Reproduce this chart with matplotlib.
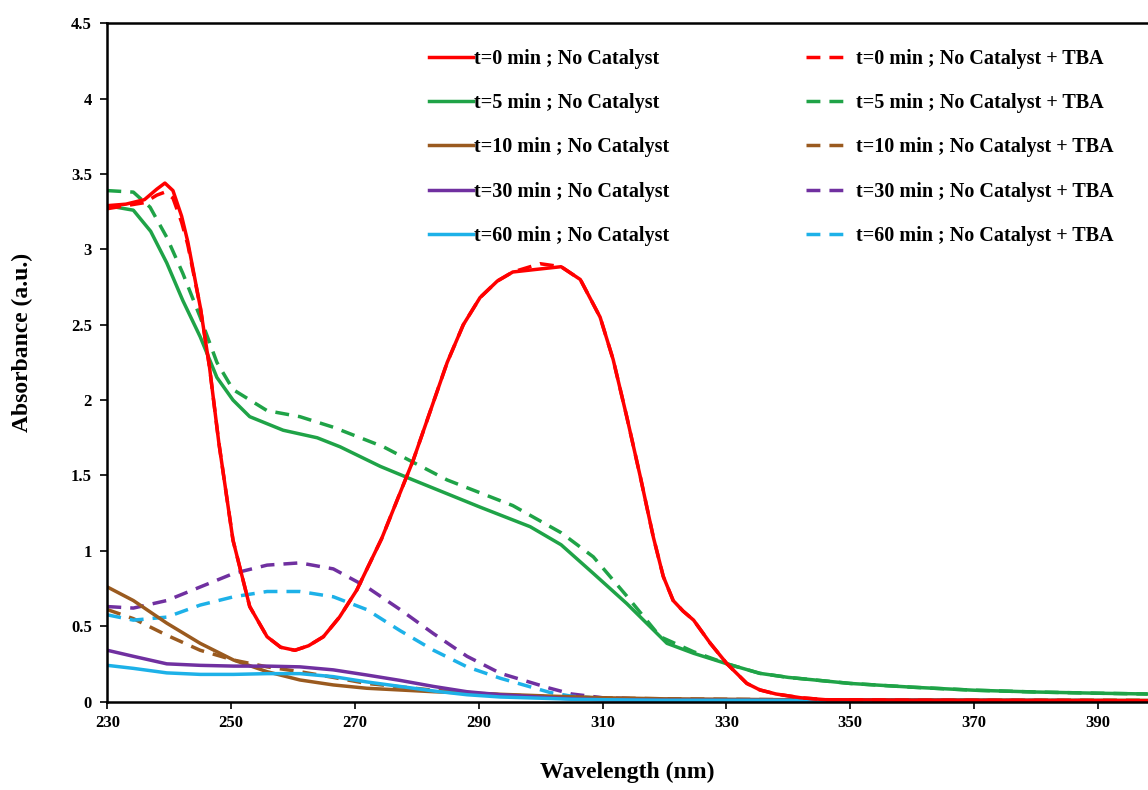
import numpy as np
import matplotlib
matplotlib.use("Agg")
import matplotlib.pyplot as plt

# wavelength (nm) / absorbance
wl_0 = [230, 233, 236, 238, 239.3, 240.6, 242, 243, 245, 246.5, 248, 250.3, 253, 255.8, 258, 260.3,
        262.5, 264.9, 267.5, 270.3, 274.3, 279.4, 284.9, 287.5, 290.2, 293, 295.5, 299.9, 303.3, 306.4,
        309.6, 311.7, 313.9, 316.1, 318.2, 319.8, 321.4, 323, 324.7, 327.4, 330.1, 333.3, 335.4, 338,
        342, 346, 360, 398]
abs_0 = [3.29, 3.30, 3.33, 3.40, 3.44, 3.39, 3.22, 3.05, 2.62, 2.22, 1.72, 1.07, 0.63, 0.43, 0.36, 0.34,
         0.37, 0.43, 0.56, 0.74, 1.08, 1.60, 2.25, 2.50, 2.68, 2.79, 2.85, 2.87, 2.885, 2.80,
         2.55, 2.27, 1.89, 1.49, 1.09, 0.83, 0.67, 0.60, 0.54, 0.386, 0.25, 0.12, 0.077, 0.05,
         0.025, 0.012, 0.008, 0.005]
abs_0_tba = [3.27, 3.29, 3.31, 3.36, 3.38, 3.34, 3.18, 3.03, 2.62, 2.22, 1.72, 1.07, 0.63, 0.43, 0.36, 0.34,
             0.37, 0.43, 0.56, 0.74, 1.08, 1.60, 2.25, 2.50, 2.68, 2.79, 2.85, 2.905, 2.885, 2.80,
             2.55, 2.27, 1.89, 1.49, 1.09, 0.83, 0.67, 0.60, 0.54, 0.386, 0.25, 0.12, 0.077, 0.05,
             0.025, 0.012, 0.008, 0.005]

wl_5 = [230, 234.2, 237, 239.6, 242.2, 245, 247.7, 250.3, 253, 258.4, 263.9, 267.6, 274.1, 279.4, 290.2,
        298.3, 303.3, 308.5, 313.9, 320.4, 324.7, 330.1, 335.4, 340, 345, 350, 360, 370, 380, 390, 398]
abs_5 = [3.29, 3.26, 3.12, 2.91, 2.66, 2.42, 2.15, 2.0, 1.89, 1.80, 1.75, 1.69, 1.56, 1.47, 1.29,
         1.16, 1.04, 0.85, 0.65, 0.386, 0.32, 0.25, 0.187, 0.16, 0.14, 0.12, 0.095, 0.075, 0.063, 0.055, 0.05]
wl_5_tba = [230, 234.2, 236.9, 239.6, 242.2, 245, 247.7, 250.3, 255.8, 261.1, 266.5, 274.6, 284.9, 295.5,
            303.3, 308.5, 313.9, 319.3, 324.7, 330.1, 335.4, 340, 345, 350, 360, 370, 380, 390, 398]
abs_5_tba = [3.39, 3.38, 3.28, 3.08, 2.84, 2.55, 2.25, 2.07, 1.93, 1.89, 1.82, 1.69, 1.47, 1.30,
             1.12, 0.96, 0.70, 0.43, 0.33, 0.25, 0.187, 0.16, 0.14, 0.12, 0.095, 0.075, 0.063, 0.055, 0.05]

wl_10 = [230, 234.2, 239.6, 245, 250.4, 255.8, 261.1, 266.5, 271.9, 282.7, 293.5, 301.5, 310, 320, 340, 398]
abs_10 = [0.76, 0.67, 0.52, 0.386, 0.275, 0.198, 0.143, 0.11, 0.088, 0.065, 0.048, 0.036, 0.025, 0.018, 0.012, 0.008]
abs_10_tba = [0.61, 0.55, 0.44, 0.34, 0.275, 0.23, 0.198, 0.16, 0.12, 0.075, 0.045, 0.032, 0.024, 0.018, 0.012, 0.008]

wl_30 = [230, 234.2, 239.6, 245, 250.4, 255.8, 261.1, 266.5, 271.9, 277.3, 282.7, 288.1, 293.5, 301.5,
         305, 310, 320, 398]
abs_30 = [0.34, 0.30, 0.25, 0.24, 0.235, 0.235, 0.23, 0.21, 0.176, 0.14, 0.10, 0.065, 0.045, 0.025,
          0.018, 0.012, 0.008, 0.005]
abs_30_tba = [0.63, 0.62, 0.67, 0.76, 0.85, 0.905, 0.92, 0.88, 0.76, 0.61, 0.45, 0.30, 0.187, 0.088,
              0.05, 0.025, 0.012, 0.005]

abs_60 = [0.24, 0.22, 0.19, 0.18, 0.18, 0.185, 0.185, 0.165, 0.13, 0.10, 0.07, 0.045, 0.03, 0.02,
          0.015, 0.012, 0.008, 0.005]
abs_60_tba = [0.575, 0.54, 0.56, 0.64, 0.695, 0.73, 0.73, 0.695, 0.61, 0.47, 0.34, 0.23, 0.154, 0.06,
              0.035, 0.02, 0.01, 0.005]

red = '#ff0000'
green = '#1fa347'
brown = '#9a5a1f'
purple = '#7030a0'
cyan = '#1db1e8'

plt.rcParams['font.family'] = ['Liberation Serif', 'DejaVu Serif']
plt.rcParams['font.weight'] = 'bold'

fig = plt.figure(figsize=(11.48, 7.90), dpi=100)
ax = fig.add_axes([0.0935, 0.112, 0.9065, 0.8585])

lw = 2.5
dash = (4.0, 2.6)
# dashed (TBA) first, solids on top
d5, = ax.plot(wl_5_tba, abs_5_tba, color=green, lw=lw, dashes=dash)
d10, = ax.plot(wl_10, abs_10_tba, color=brown, lw=lw, dashes=dash)
d30, = ax.plot(wl_30, abs_30_tba, color=purple, lw=lw, dashes=dash)
d60, = ax.plot(wl_30, abs_60_tba, color=cyan, lw=lw, dashes=dash)
s5, = ax.plot(wl_5, abs_5, color=green, lw=lw)
s10, = ax.plot(wl_10, abs_10, color=brown, lw=lw)
s30, = ax.plot(wl_30, abs_30, color=purple, lw=lw)
s60, = ax.plot(wl_30, abs_60, color=cyan, lw=lw)
d0, = ax.plot(wl_0, abs_0_tba, color=red, lw=lw, dashes=dash)
s0, = ax.plot(wl_0, abs_0, color=red, lw=lw)

labels_solid = ['t=0 min ; No Catalyst', 't=5 min ; No Catalyst', 't=10 min ; No Catalyst',
                't=30 min ; No Catalyst', 't=60 min ; No Catalyst']
labels_tba = [s + ' + TBA' for s in labels_solid]

leg_font = {'family': 'Liberation Serif', 'weight': 'bold', 'size': 14.5}
leg1 = ax.legend([s0, s5, s10, s30, s60], labels_solid, frameon=False, loc='upper left',
                 bbox_to_anchor=(0.309, 0.962), borderaxespad=0, borderpad=0, prop=leg_font,
                 handlelength=2.2, handletextpad=0.05, labelspacing=1.2)
ax.add_artist(leg1)
ax.legend([d0, d5, d10, d30, d60], labels_tba, frameon=False, loc='upper left',
          bbox_to_anchor=(0.671, 0.962), borderaxespad=0, borderpad=0, prop=leg_font,
          handlelength=2.05, handletextpad=0.45, labelspacing=1.2)

ax.set_xlim(230, 398.1)
ax.set_ylim(0, 4.5)
ax.set_xticks(np.arange(230, 391, 20))
ax.set_yticks(np.arange(0, 4.51, 0.5))
ax.set_yticklabels(['%g' % v for v in np.arange(0, 4.51, 0.5)])
ax.tick_params(direction='out', length=5, width=1.2, labelsize=12)
ax.tick_params(axis='y', pad=6)
ax.tick_params(axis='x', pad=5)
for lab in ax.get_xticklabels() + ax.get_yticklabels():
    lab.set_fontweight('bold')
ax.spines['right'].set_visible(False)
for s in ['left', 'bottom', 'top']:
    ax.spines[s].set_linewidth(1.8)

ax.set_xlabel('Wavelength (nm)', fontsize=17, fontweight='bold', labelpad=22)
ax.set_ylabel('Absorbance (a.u.)', fontsize=17, fontweight='bold')
ax.yaxis.set_label_coords(-0.071, 0.53)

fig.savefig('out.png', dpi=100)
